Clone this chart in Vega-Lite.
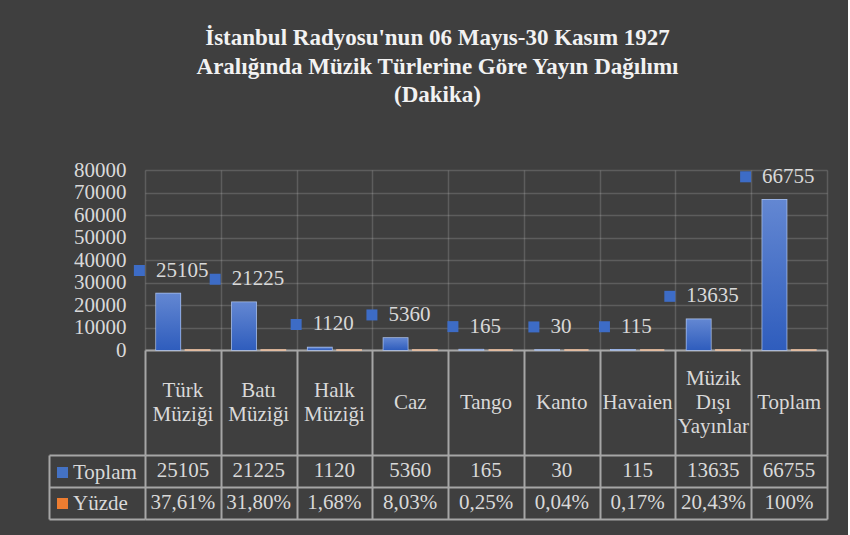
{
  "$schema": "https://vega.github.io/schema/vega-lite/v6.json",
  "background": "#3f3f3f",
  "padding": {"left": 48, "top": 27, "right": 21, "bottom": 17},
  "title": {
    "text": ["İstanbul Radyosu'nun 06 Mayıs-30 Kasım 1927", "Aralığında Müzik Türlerine Göre Yayın Dağılımı", "(Dakika)"],
    "font": "Liberation Serif",
    "fontSize": 23,
    "fontWeight": "bold",
    "color": "#f2f2f2",
    "lineHeight": 28.5,
    "anchor": "middle",
    "frame": "bounds",
    "offset": 52
  },
  "config": {
    "view": {"stroke": null},
    "font": "Liberation Serif",
    "axis": {"labelFont": "Liberation Serif", "labelFontSize": 21, "labelColor": "#d9d9d9"},
    "legend": {"labelFont": "Liberation Serif", "labelFontSize": 21, "labelColor": "#d9d9d9"}
  },
  "data": {
    "values": [
      {"tur": "Türk Müziği", "seri": "Toplam", "deger": 25105, "etiket": "25105"},
      {"tur": "Batı Müziği", "seri": "Toplam", "deger": 21225, "etiket": "21225"},
      {"tur": "Halk Müziği", "seri": "Toplam", "deger": 1120, "etiket": "1120"},
      {"tur": "Caz", "seri": "Toplam", "deger": 5360, "etiket": "5360"},
      {"tur": "Tango", "seri": "Toplam", "deger": 165, "etiket": "165"},
      {"tur": "Kanto", "seri": "Toplam", "deger": 30, "etiket": "30"},
      {"tur": "Havaien", "seri": "Toplam", "deger": 115, "etiket": "115"},
      {"tur": "Müzik Dışı Yayınlar", "seri": "Toplam", "deger": 13635, "etiket": "13635"},
      {"tur": "Toplam", "seri": "Toplam", "deger": 66755, "etiket": "66755"},
      {"tur": "Türk Müziği", "seri": "Yüzde", "deger": 0.3761, "etiket": "37,61%"},
      {"tur": "Batı Müziği", "seri": "Yüzde", "deger": 0.318, "etiket": "31,80%"},
      {"tur": "Halk Müziği", "seri": "Yüzde", "deger": 0.0168, "etiket": "1,68%"},
      {"tur": "Caz", "seri": "Yüzde", "deger": 0.0803, "etiket": "8,03%"},
      {"tur": "Tango", "seri": "Yüzde", "deger": 0.0025, "etiket": "0,25%"},
      {"tur": "Kanto", "seri": "Yüzde", "deger": 0.0004, "etiket": "0,04%"},
      {"tur": "Havaien", "seri": "Yüzde", "deger": 0.0017, "etiket": "0,17%"},
      {"tur": "Müzik Dışı Yayınlar", "seri": "Yüzde", "deger": 0.2043, "etiket": "20,43%"},
      {"tur": "Toplam", "seri": "Yüzde", "deger": 1, "etiket": "100%"}
    ]
  },
  "spacing": 0,
  "bounds": "flush",
  "vconcat": [
    {
      "width": 682,
      "height": 180,
      "layer": [
        {
          "mark": {"type": "bar", "strokeWidth": 1.5},
          "encoding": {
            "x": {
              "field": "tur", "type": "nominal", "sort": null,
              "scale": {"paddingInner": 0, "paddingOuter": 0},
              "axis": {
                "title": null, "labels": false, "ticks": false,
                "tickBand": "extent",
                "domain": true, "domainColor": "#a6a6a6", "domainWidth": 2,
                "grid": true, "gridColor": "#d9d9d9", "gridOpacity": 0.2, "gridWidth": 1.5
              }
            },
            "xOffset": {"field": "seri", "type": "nominal", "sort": ["Toplam", "Yüzde"], "scale": {"paddingInner": 0.172, "paddingOuter": 0.379}},
            "y": {
              "field": "deger", "type": "quantitative",
              "scale": {"domain": [0, 80000], "nice": false},
              "axis": {
                "title": null, "tickCount": 8, "format": "d", "domain": false, "ticks": false,
                "labelPadding": 19, "gridColor": "#d9d9d9", "gridOpacity": 0.2, "gridWidth": 1.5
              }
            },
            "color": {
              "field": "seri", "type": "nominal",
              "scale": {"domain": ["Toplam", "Yüzde"], "range": ["#4472c4", "#ed7d31"]},
              "legend": {
                "title": null, "orient": "none", "legendX": -93, "legendY": 292,
                "symbolType": "square", "symbolSize": 121, "symbolStrokeWidth": 0,
                "labelOffset": 0, "rowPadding": 9, "padding": 0
              }
            },
            "stroke": {"condition": {"test": "datum.seri === 'Toplam'", "value": "#a9bfea"}, "value": "#f6c4a0"}
          }
        },
        {
          "transform": [{"filter": "datum.seri === 'Toplam'"}],
          "mark": {
            "type": "bar",
            "color": {"gradient": "linear", "x1": 0, "y1": 0, "x2": 0, "y2": 1,
              "stops": [{"offset": 0, "color": "#6387d2"}, {"offset": 1, "color": "#2f5dbd"}]}
          },
          "encoding": {
            "x": {"field": "tur", "type": "nominal", "sort": null},
            "xOffset": {"field": "seri", "type": "nominal", "sort": ["Toplam", "Yüzde"]},
            "y": {"field": "deger", "type": "quantitative"}
          }
        },
        {
          "transform": [{"filter": "datum.seri === 'Toplam'"}],
          "mark": {
            "type": "text", "align": "left", "baseline": "middle",
            "font": "Liberation Serif", "fontSize": 21, "color": "#d9d9d9",
            "dy": -23,
            "dx": {"expr": "-1 - 5.2 * length(toString(datum.deger))"}
          },
          "encoding": {
            "x": {"field": "tur", "type": "nominal", "sort": null},
            "y": {"field": "deger", "type": "quantitative"},
            "text": {"field": "deger", "type": "quantitative", "format": "d"}
          }
        },
        {
          "transform": [{"filter": "datum.seri === 'Toplam'"}],
          "mark": {
            "type": "point", "shape": "square", "filled": true, "size": 121, "opacity": 1,
            "color": "#3d6cc6", "yOffset": -23,
            "xOffset": {"expr": "-17.5 - 5.2 * length(toString(datum.deger))"}
          },
          "encoding": {
            "x": {"field": "tur", "type": "nominal", "sort": null},
            "y": {"field": "deger", "type": "quantitative"}
          }
        }
      ]
    },
    {
      "width": 682,
      "height": 105,
      "transform": [{"filter": "datum.seri === 'Toplam'"}],
      "mark": {
        "type": "text", "font": "Liberation Serif", "fontSize": 21, "color": "#d9d9d9",
        "baseline": "middle", "lineBreak": " ", "lineHeight": 24,
        "dy": {"expr": "-12 * (length(split(datum.tur, ' ')) - 1)"}
      },
      "encoding": {
        "x": {
          "field": "tur", "type": "nominal", "sort": null,
          "scale": {"paddingInner": 0, "paddingOuter": 0},
          "axis": {"title": null, "labels": false, "ticks": false, "domain": false, "grid": true,
            "gridColor": "#a6a6a6", "gridWidth": 2, "tickBand": "extent"}
        },
        "text": {"field": "tur", "type": "nominal"}
      }
    },
    {
      "width": 682,
      "height": 64,
      "mark": {"type": "text", "font": "Liberation Serif", "fontSize": 21, "color": "#d9d9d9", "baseline": "middle"},
      "encoding": {
        "x": {
          "field": "tur", "type": "nominal", "sort": null,
          "scale": {"paddingInner": 0, "paddingOuter": 0},
          "axis": {"title": null, "labels": false, "ticks": false, "domain": false, "grid": true,
            "gridColor": "#a6a6a6", "gridWidth": 2, "tickBand": "extent"}
        },
        "y": {
          "field": "seri", "type": "nominal", "sort": ["Toplam", "Yüzde"],
          "scale": {"paddingInner": 0, "paddingOuter": 0},
          "axis": {"title": null, "labels": false, "grid": true, "gridColor": "#a6a6a6", "gridWidth": 2,
            "tickBand": "extent", "offset": 96, "domain": true, "domainColor": "#a6a6a6", "domainWidth": 2,
            "ticks": true, "tickSize": -96, "tickColor": "#a6a6a6", "tickWidth": 2}
        },
        "text": {"field": "etiket", "type": "nominal"}
      }
    }
  ]
}
